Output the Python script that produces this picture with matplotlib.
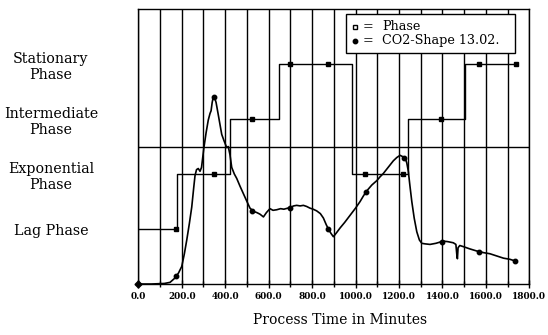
import matplotlib
matplotlib.use("Agg")
import matplotlib.pyplot as plt
from matplotlib.patches import Rectangle

plt.rcParams['font.family'] = ['DejaVu Serif']

# ---- data ----
co2_time = [0, 60, 120, 146, 169, 185, 200, 212, 223, 235, 246, 255, 261, 268, 276, 284,
            291, 302, 312, 322, 330, 335, 340, 345, 352, 358, 368, 376, 384, 395, 407, 414,
            422, 430, 442, 453, 468, 484, 500, 514, 530, 545, 560, 576, 590, 606, 620, 637,
            655, 670, 698, 715, 729, 745, 760, 775, 790, 805, 821, 838, 852, 865, 875, 887,
            898, 912, 929, 950, 975, 1000, 1021, 1036, 1051, 1075, 1098, 1113, 1128, 1150,
            1174, 1190, 1205, 1215, 1228, 1236, 1243, 1250, 1259, 1270, 1282, 1294, 1305,
            1320, 1343, 1370, 1404, 1425, 1450, 1462, 1467, 1469, 1472, 1480, 1496, 1525,
            1558, 1590, 1619, 1650, 1681, 1710, 1734]
co2_value = [0.0, 0.0, 0.01, 0.03, 0.11, 0.2, 0.32, 0.55, 0.8, 1.1, 1.4, 1.75, 1.97, 2.08, 2.1, 2.05,
             2.12, 2.48, 2.75, 2.98, 3.1, 3.15, 3.3, 3.4, 3.38, 3.3, 3.08, 2.9, 2.72, 2.6, 2.48, 2.5,
             2.35, 2.12, 2.0, 1.92, 1.78, 1.64, 1.5, 1.38, 1.32, 1.3, 1.27, 1.22, 1.3, 1.37, 1.34, 1.35,
             1.37, 1.36, 1.39, 1.42, 1.43, 1.42, 1.43, 1.41, 1.38, 1.36, 1.33, 1.28, 1.2, 1.08, 1.0, 0.92,
             0.86, 0.93, 1.02, 1.12, 1.25, 1.38, 1.5, 1.6, 1.69, 1.8, 1.88, 1.95, 2.01, 2.12,
             2.24, 2.3, 2.34, 2.32, 2.3, 2.2, 2.05, 1.8, 1.5, 1.2, 0.95, 0.8, 0.74,
             0.73, 0.72, 0.74, 0.78, 0.77, 0.75, 0.72, 0.5, 0.46, 0.66, 0.7, 0.68, 0.64,
             0.6, 0.57, 0.55, 0.51, 0.47, 0.45, 0.42]
co2_marker_time = [175, 350, 525, 700, 875, 1050, 1225, 1400, 1570, 1734]
co2_marker_value = [0.14, 3.4, 1.33, 1.39, 1.0, 1.68, 2.3, 0.77, 0.59, 0.42]

phase_step_time = [0, 178, 422, 647, 982, 1240, 1505, 1745]
phase_step_level = [1, 2, 3, 4, 2, 3, 4, 4]
phase_marker_time = [175, 350, 525, 700, 875, 1045, 1220, 1395, 1570, 1740]
phase_marker_level = [1, 2, 3, 4, 4, 2, 2, 3, 4, 4]

phase_levels = [1, 2, 3, 4]
phase_labels = ["Lag Phase", "Exponential\nPhase", "Intermediate\nPhase", "Stationary\nPhase"]
x_ticks = [0, 200, 400, 600, 800, 1000, 1200, 1400, 1600, 1800]
x_ticklabels = ["0.0", "200.0", "400.0", "600.0", "800.0", "1000.0", "1200.0",
                "1400.0", "1600.0", "1800.0"]
legend_labels = ["Phase", "CO2-Shape 13.02."]

# ---- figure ----
fig = plt.figure(figsize=(5.48, 3.35), dpi=100)
ax = fig.add_axes([0.2524, 0.1522, 0.7135, 0.8209])
ax.set_xlim(0, 1800)
ax.set_ylim(0, 5)

for x in range(0, 1801, 100):
    ax.axvline(x, color='black', lw=1.0, zorder=1)
ax.axhline(2.5, color='black', lw=1.0, zorder=1)

ax.plot(phase_step_time, phase_step_level, drawstyle='steps-post', color='black', lw=1.0, zorder=3)
ax.plot(phase_marker_time, phase_marker_level, ls='none', marker='s', ms=3.2,
        color='black', zorder=4)

ax.plot(co2_time, co2_value, color='black', lw=1.2, zorder=3)
ax.plot(co2_marker_time, co2_marker_value, ls='none', marker='o', ms=3.2, color='black', zorder=4)
ax.plot([0], [0], marker='D', ms=3.5, color='black', clip_on=False, zorder=5)

for s in ax.spines.values():
    s.set_linewidth(1.0)

ax.set_xticks(x_ticks)
ax.set_xticklabels(x_ticklabels, fontsize=6.4, fontweight='bold')
ax.set_xticks(range(100, 1800, 200), minor=True)
ax.tick_params(axis='x', which='major', direction='inout', length=6, width=1.0, pad=3)
ax.tick_params(axis='x', which='minor', direction='inout', length=4, width=1.0)

ax.set_yticks(phase_levels)
ax.set_yticklabels(phase_labels, fontsize=10.3, ha='center', multialignment='center',
                   linespacing=1.25)
ax.tick_params(axis='y', length=0, pad=63)

ax.set_xlabel("Process Time in Minutes", fontsize=10, labelpad=7)
ax.xaxis.set_label_coords(0.516, -0.105)

# ---- legend box (drawn manually for exact placement) ----
ax.add_patch(Rectangle((0.531, 0.84), 0.432, 0.142, transform=ax.transAxes,
                       facecolor='white', edgecolor='black', lw=1.0, zorder=10))
rows_y = [0.935, 0.884]
ax.plot([0.554], [rows_y[0]], transform=ax.transAxes, ls='none', marker='s', ms=3.2,
        mfc='white', mec='black', zorder=11, clip_on=False)
ax.plot([0.554], [rows_y[1]], transform=ax.transAxes, ls='none', marker='o', ms=3.2,
        color='black', zorder=11, clip_on=False)
for yy, lab in zip(rows_y, legend_labels):
    ax.text(0.588, yy, "=", transform=ax.transAxes, fontsize=9.2, ha='center',
            va='center', zorder=11)
    ax.text(0.623, yy, lab, transform=ax.transAxes, fontsize=9.2, ha='left',
            va='center', zorder=11)

fig.savefig("out.png", dpi=100, facecolor='white')
